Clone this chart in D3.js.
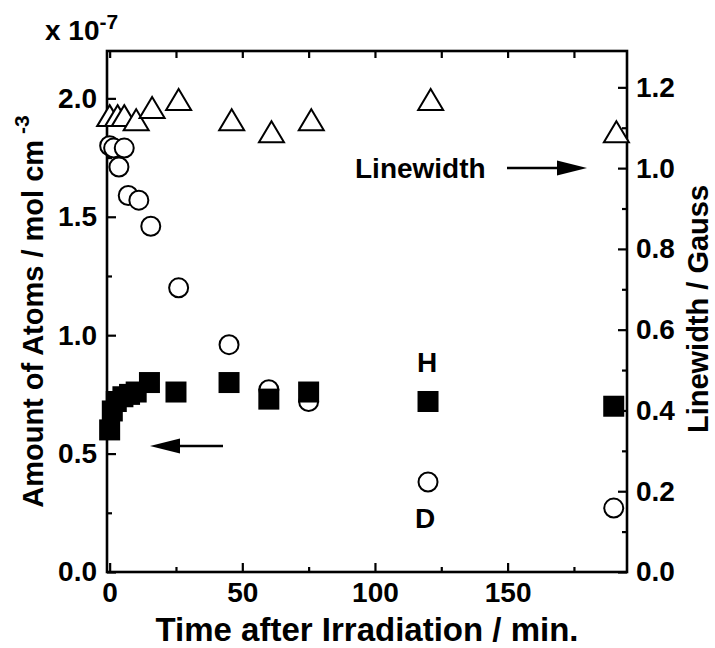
<!DOCTYPE html>
<html><head><meta charset="utf-8">
<script src="https://cdn.jsdelivr.net/npm/d3@7/dist/d3.min.js"></script>
<style>
body{margin:0;background:#fff;}
svg text{font-family:"Liberation Sans",Arial,sans-serif;font-weight:bold;fill:#000;}
</style></head>
<body><svg id="c" width="715" height="648"></svg>
<script>
// ---- data ----
const hTime = [0, 1, 2.5, 5, 7.5, 10, 15, 25, 45, 60, 75, 120, 190];
const hAmount = [0.60, 0.68, 0.72, 0.74, 0.75, 0.76, 0.80, 0.76, 0.80, 0.73, 0.76, 0.72, 0.70];
const dTime = [0, 1.5, 3.5, 5.5, 7, 11, 15.5, 26, 45, 60, 75, 120, 190];
const dAmount = [1.80, 1.79, 1.71, 1.79, 1.59, 1.57, 1.46, 1.20, 0.96, 0.77, 0.72, 0.38, 0.27];
const lwTime = [0, 3, 5.5, 10, 16, 26, 46, 61, 76, 121, 191];
const lwValue = [1.13, 1.13, 1.13, 1.12, 1.15, 1.17, 1.12, 1.09, 1.12, 1.17, 1.09];
const xMajor = [0, 50, 100, 150];
const xMinor = [25, 75, 125, 175];
const yLMajor = [0, 0.5, 1.0, 1.5, 2.0];
const yLMinor = [0.25, 0.75, 1.25, 1.75];
const yRMajor = [0, 0.2, 0.4, 0.6, 0.8, 1.0, 1.2];
const yRMinor = [0.1, 0.3, 0.5, 0.7, 0.9, 1.1];

const svg = d3.select("#c");
const L = 107, R = 627, T = 51, B = 572;
const x = d3.scaleLinear().domain([-1, 195]).range([L, R]);
const yL = d3.scaleLinear().domain([0, 2.2]).range([B, T]);
const yR = d3.scaleLinear().domain([0, 1.29]).range([B, T]);

const fs = 28;
function styleAxis(g){
  g.selectAll(".domain").remove();
  g.selectAll(".tick line").attr("stroke","#000").attr("stroke-width",2.2);
  g.selectAll(".tick text").attr("font-size",fs).attr("font-family","Liberation Sans, Arial, sans-serif").attr("font-weight","bold");
}
// bottom
svg.append("g").attr("transform",`translate(0,${B})`)
  .call(d3.axisBottom(x).tickValues(xMajor).tickSize(-9).tickPadding(10).tickFormat(d3.format("d"))).call(styleAxis);
svg.append("g").attr("transform",`translate(0,${B})`)
  .call(d3.axisBottom(x).tickValues(xMinor).tickSize(-5).tickFormat("")).call(styleAxis);
// top
svg.append("g").attr("transform",`translate(0,${T})`)
  .call(d3.axisTop(x).tickValues(xMajor.concat(xMinor)).tickSize(-7).tickFormat("")).call(styleAxis);
// left
svg.append("g").attr("transform",`translate(${L},0)`)
  .call(d3.axisLeft(yL).tickValues(yLMajor).tickSize(-9).tickPadding(10).tickFormat(d3.format(".1f"))).call(styleAxis);
svg.append("g").attr("transform",`translate(${L},0)`)
  .call(d3.axisLeft(yL).tickValues(yLMinor).tickSize(-5).tickFormat("")).call(styleAxis);
// right
svg.append("g").attr("transform",`translate(${R},0)`)
  .call(d3.axisRight(yR).tickValues(yRMajor).tickSize(-9).tickPadding(9).tickFormat(d3.format(".1f"))).call(styleAxis);
svg.append("g").attr("transform",`translate(${R},0)`)
  .call(d3.axisRight(yR).tickValues(yRMinor).tickSize(-5).tickFormat("")).call(styleAxis);

// frame
svg.append("rect").attr("x",L).attr("y",T).attr("width",R-L).attr("height",B-T)
  .attr("fill","none").attr("stroke","#000").attr("stroke-width",2.6);

// markers
const lw = lwTime.map((t,i)=>({t, v: lwValue[i]}));
svg.append("g").selectAll("path").data(lw).join("path")
  .attr("d", d => { const cx = x(d.t), cy = yR(d.v), w = 12.5, h = 10.5;
    return `M${cx},${cy-h}L${cx+w},${cy+h}L${cx-w},${cy+h}Z`; })
  .attr("fill","#fff").attr("stroke","#000").attr("stroke-width",2);

const dd = dTime.map((t,i)=>({t, v: dAmount[i]}));
svg.append("g").selectAll("circle").data(dd).join("circle")
  .attr("cx", d => x(d.t)).attr("cy", d => yL(d.v)).attr("r", 9.5)
  .attr("fill","#fff").attr("stroke","#000").attr("stroke-width",2);

const hh = hTime.map((t,i)=>({t, v: hAmount[i]}));
svg.append("g").selectAll("rect").data(hh).join("rect")
  .attr("x", d => x(d.t)-10.5).attr("y", d => yL(d.v)-10.5).attr("width",21).attr("height",21)
  .attr("fill","#000");

// annotations
svg.append("text").attr("x",427).attr("y",372).attr("text-anchor","middle").attr("font-size",fs).text("H");
svg.append("text").attr("x",425).attr("y",528).attr("text-anchor","middle").attr("font-size",fs).text("D");
svg.append("text").attr("x",355).attr("y",178).attr("font-size",fs).text("Linewidth");

function arrow(x1, x2, yy){
  const dir = Math.sign(x2 - x1), hl = 30, hw = 7.5;
  svg.append("line").attr("x1",x1).attr("y1",yy).attr("x2",x2 - dir*hl*0.8).attr("y2",yy)
    .attr("stroke","#000").attr("stroke-width",2.5);
  svg.append("path").attr("d",`M${x2},${yy}L${x2-dir*hl},${yy-hw}L${x2-dir*hl},${yy+hw}Z`).attr("fill","#000");
}
arrow(507, 587, yR(1.0));
arrow(223, 150, 446);

// multiplier
const mt = svg.append("text").attr("x",45).attr("y",40).attr("font-size",fs);
mt.append("tspan").text("x 10");
mt.append("tspan").attr("font-size",21).attr("dy",-11).text("-7");

// axis titles
svg.append("text").attr("x",(L+R)/2).attr("y",641).attr("text-anchor","middle").attr("font-size",33)
  .text("Time after Irradiation / min.");
const yt = svg.append("text").attr("transform",`translate(43,${(T+B)/2}) rotate(-90)`).attr("text-anchor","middle").attr("font-size",29);
yt.append("tspan").text("Amount of Atoms / mol cm");
yt.append("tspan").attr("font-size",21).attr("dy",-14).attr("dx",6).text("-3");
svg.append("text").attr("transform",`translate(708,309) rotate(-90)`).attr("text-anchor","middle").attr("font-size",29)
  .text("Linewidth / Gauss");
</script></body></html>
